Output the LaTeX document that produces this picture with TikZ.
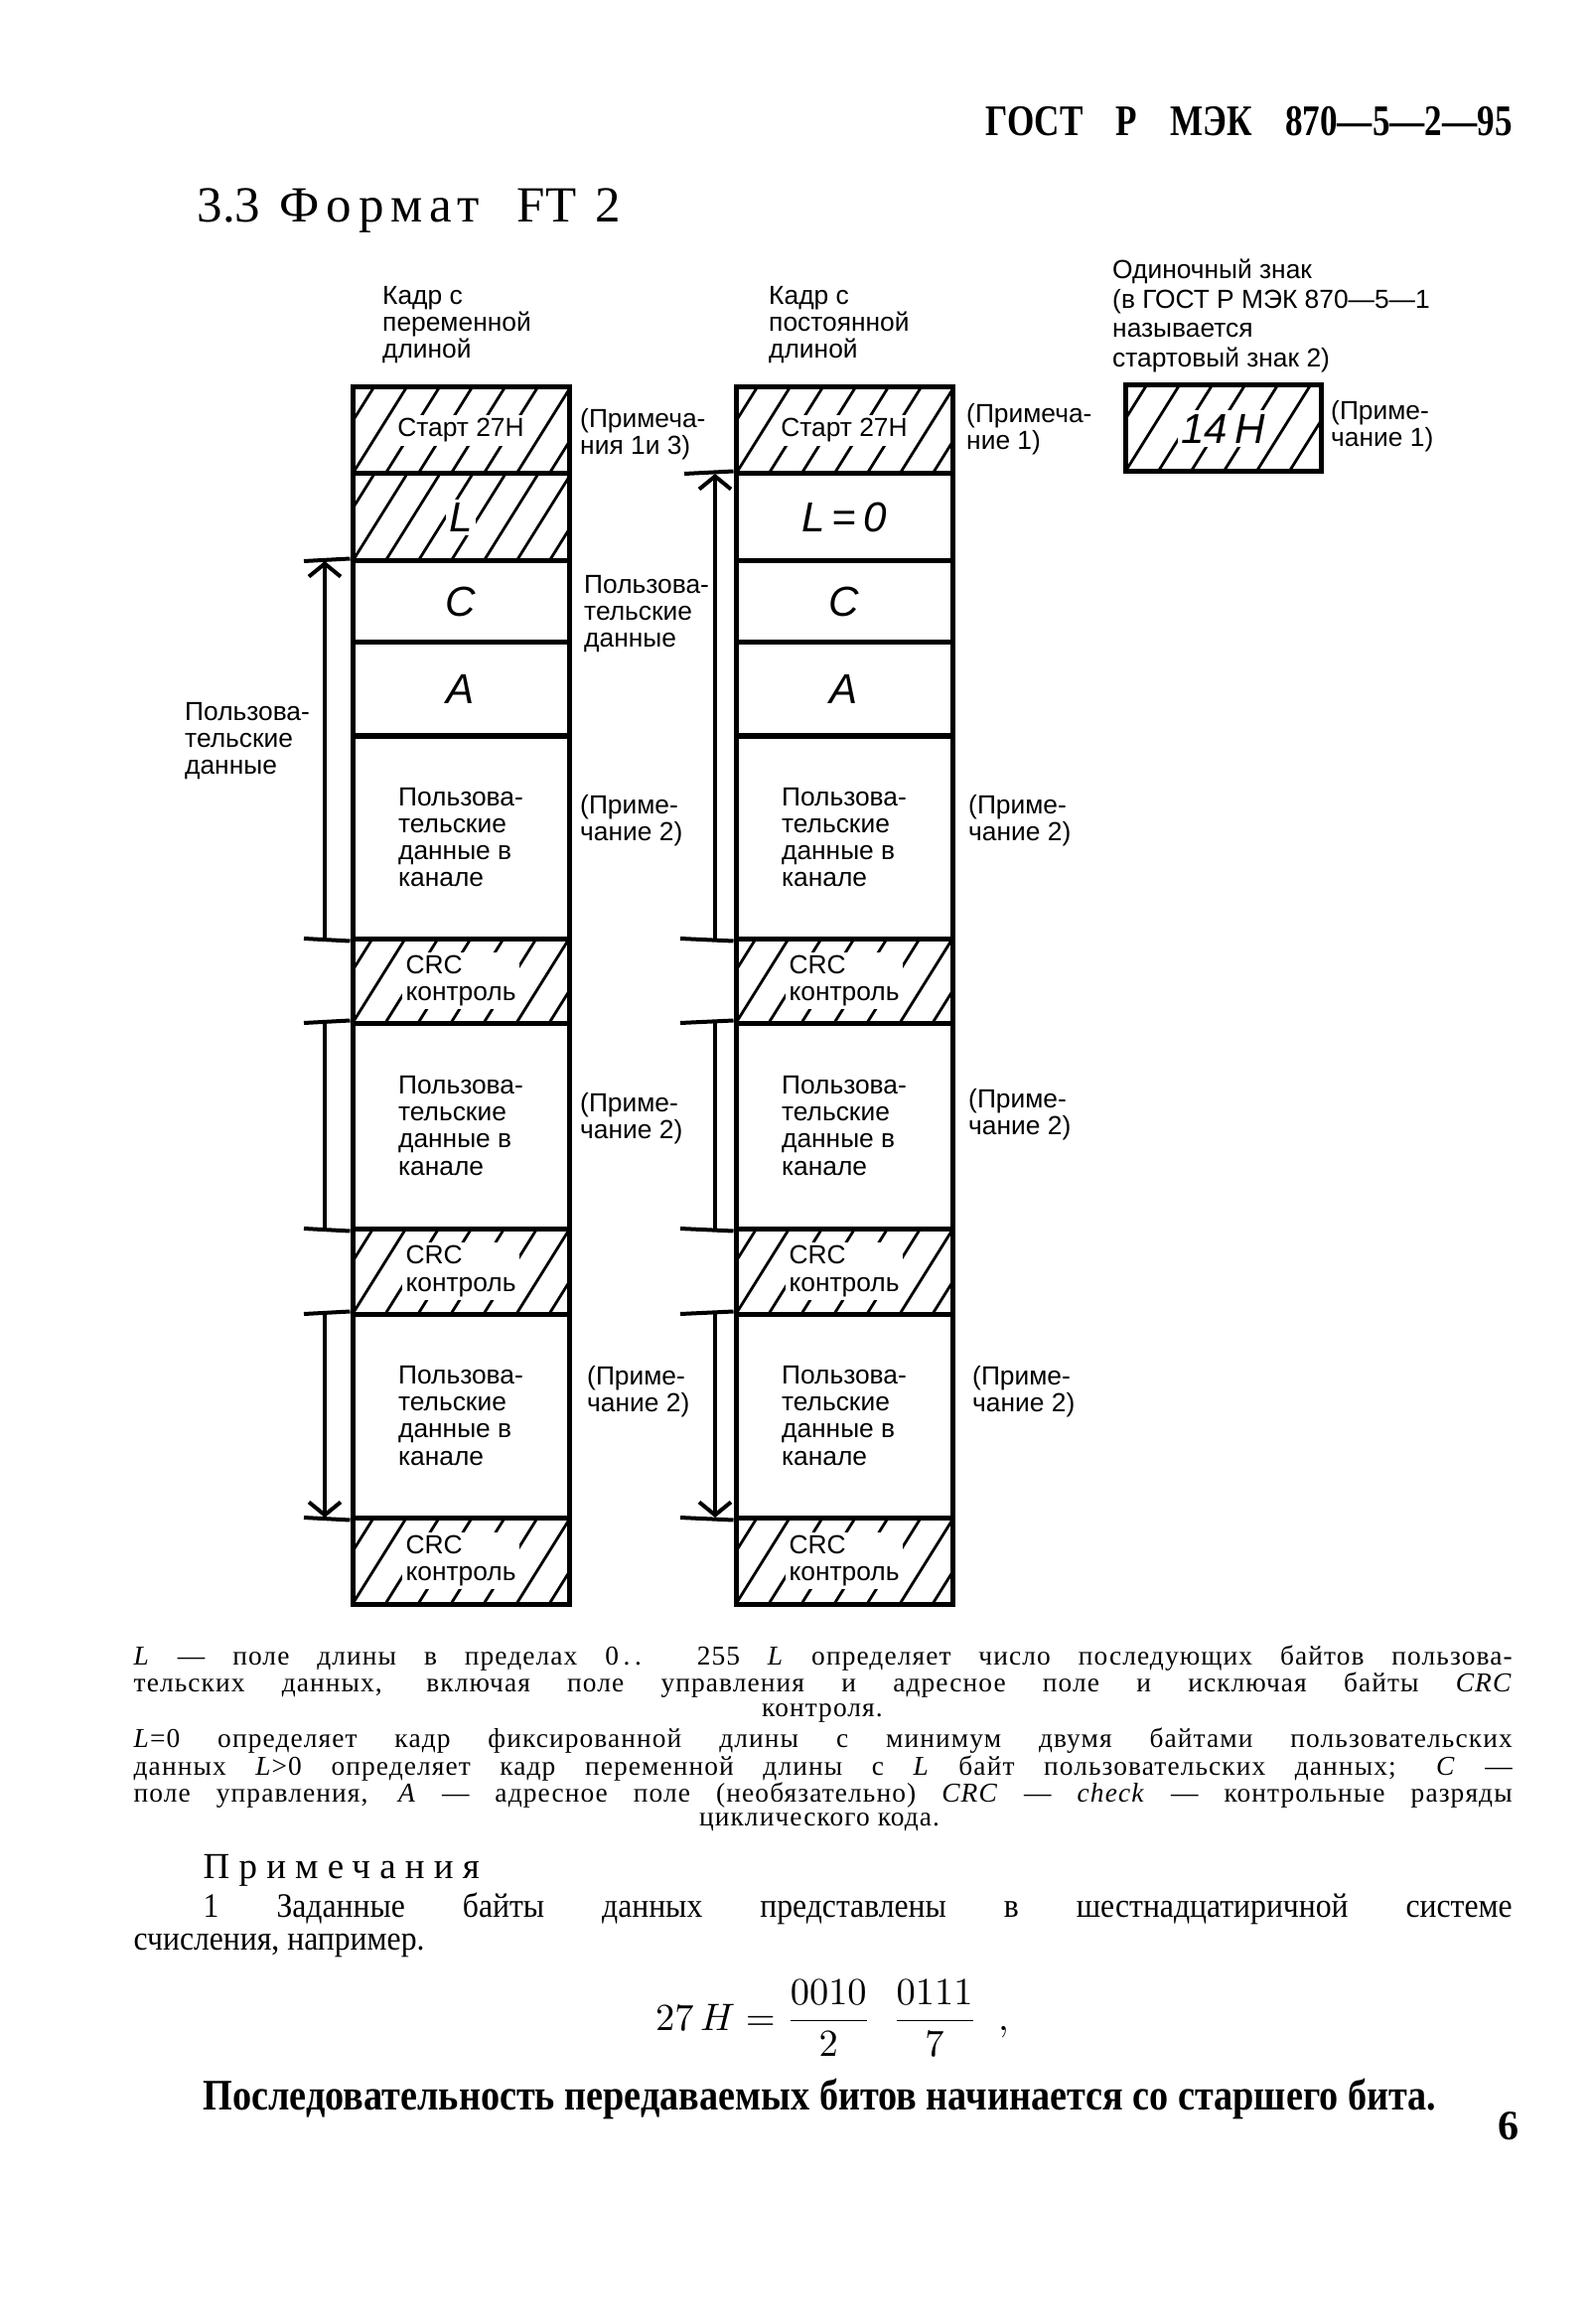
\documentclass[tikz,border=0pt]{standalone}
\usepackage{fontspec}
\setmainfont{Liberation Serif}
\newfontfamily\schema{Liberation Sans}
\newfontfamily\etroit[FakeStretch=0.8]{Liberation Serif}
\newfontfamily\moyen[FakeStretch=0.92]{Liberation Serif}
\newfontfamily\gras[FakeStretch=0.87]{Liberation Serif}
\newfontfamily\espace[LetterSpace=25]{Liberation Serif}
\newfontfamily\titrage[LetterSpace=14]{Liberation Serif}
\newfontfamily\lache[LetterSpace=4]{Liberation Serif}
\usetikzlibrary{arrows.meta}

\begin{document}
\begin{tikzpicture}[x=0.1mm,y=-0.1mm]
	% Styles (MODIFIABLES)
	\tikzstyle{case}=[draw,line width=0.5mm,minimum width=21.8mm,inner sep=0pt]
	\tikzstyle{hachure}=[path picture={\foreach \i in {-4,...,8} \draw[line width=0.28mm] ([xshift=\i*3.3mm]path picture bounding box.south west) -- ++(58:20mm);}]
	\tikzstyle{etiquette}=[font=\schema\fontsize{7.5}{7.7}\selectfont,align=left,inner sep=1pt]
	\tikzstyle{lettre}=[font=\schema\itshape\fontsize{12}{12}\selectfont,inner sep=1pt]
	\tikzstyle{renvoi}=[line width=0.4mm]
	\tikzstyle{fleche}=[line width=0.4mm,-{Straight Barb[length=1.3mm,width=3.2mm]}]
	\tikzstyle{texte}=[font=\lache\fontsize{7.8}{7.8}\selectfont,inner sep=0pt,anchor=west]
	% Dimensions (MODIFIABLES)
	\def\Xg{464}
	\def\Xm{850}
	\def\LargeurTexte{138.8mm}
	\useasboundingbox (0,0) rectangle (1601,2340);
	% Titres
	\node[inner sep=0pt,anchor=west,font=\etroit\bfseries\fontsize{12.5}{12.5}\selectfont] (gost) at (992,122) {\makebox[53mm][s]{ГОСТ Р МЭК 870—5—2—95}};
	\node[inner sep=0pt,anchor=west,font=\fontsize{14.5}{14.5}\selectfont] (titre) at (198,212) {\makebox[42.6mm][s]{3.3 {\titrage Формат}\ \ FT 2}};
	% En-tetes des colonnes
	\node[etiquette,anchor=west] (kg) at (381,327) {Кадр с\\переменной\\длиной};
	\node[etiquette,anchor=west] (km) at (770,327) {Кадр с\\постоянной\\длиной};
	\node[etiquette,anchor=west,font=\schema\fontsize{7.5}{8.5}\selectfont] (ks) at (1116,318) {Одиночный знак\\(в ГОСТ Р МЭК 870—5—1\\называется\\стартовый знак 2)};
	% Colonne gauche : kadr de longueur variable
	\node[case,hachure,minimum height=8.7mm] (g1) at (\Xg,433.5) {};
	\node[etiquette,fill=white] (tg1) at (g1) {Старт 27Н};
	\node[case,hachure,minimum height=8.8mm] (g2) at (\Xg,521) {};
	\node[lettre,fill=white] (tg2) at (g2) {L};
	\node[case,lettre,minimum height=8.2mm] (g3) at (\Xg,606) {C};
	\node[case,lettre,minimum height=9.4mm] (g4) at (\Xg,694) {A};
	\node[case,etiquette,minimum height=20.4mm] (g5) at (\Xg,843) {Пользова-\\тельские\\данные в\\канале};
	\node[case,hachure,minimum height=8.5mm] (g6) at (\Xg,987.5) {};
	\node[etiquette,fill=white] (tg6) at (g6) {CRC\\контроль};
	\node[case,etiquette,minimum height=20.7mm] (g7) at (\Xg,1133.5) {Пользова-\\тельские\\данные в\\канале};
	\node[case,hachure,minimum height=8.6mm] (g8) at (\Xg,1280) {};
	\node[etiquette,fill=white] (tg8) at (g8) {CRC\\контроль};
	\node[case,etiquette,minimum height=20.5mm] (g9) at (\Xg,1425.5) {Пользова-\\тельские\\данные в\\канале};
	\node[case,hachure,minimum height=8.7mm] (g10) at (\Xg,1571.5) {};
	\node[etiquette,fill=white] (tg10) at (g10) {CRC\\контроль};
	% Colonne milieu : kadr de longueur fixe
	\node[case,hachure,minimum height=8.7mm] (m1) at (\Xm,433.5) {};
	\node[etiquette,fill=white] (tm1) at (m1) {Старт 27Н};
	\node[case,lettre,minimum height=8.8mm] (m2) at (\Xm,521) {L\,=\,0};
	\node[case,lettre,minimum height=8.2mm] (m3) at (\Xm,606) {C};
	\node[case,lettre,minimum height=9.4mm] (m4) at (\Xm,694) {A};
	\node[case,etiquette,minimum height=20.4mm] (m5) at (\Xm,843) {Пользова-\\тельские\\данные в\\канале};
	\node[case,hachure,minimum height=8.5mm] (m6) at (\Xm,987.5) {};
	\node[etiquette,fill=white] (tm6) at (m6) {CRC\\контроль};
	\node[case,etiquette,minimum height=20.7mm] (m7) at (\Xm,1133.5) {Пользова-\\тельские\\данные в\\канале};
	\node[case,hachure,minimum height=8.6mm] (m8) at (\Xm,1280) {};
	\node[etiquette,fill=white] (tm8) at (m8) {CRC\\контроль};
	\node[case,etiquette,minimum height=20.5mm] (m9) at (\Xm,1425.5) {Пользова-\\тельские\\данные в\\канале};
	\node[case,hachure,minimum height=8.7mm] (m10) at (\Xm,1571.5) {};
	\node[etiquette,fill=white] (tm10) at (m10) {CRC\\контроль};
	% Signe isole
	\node[case,hachure,minimum width=19.7mm,minimum height=8.7mm] (s1) at (1231.5,431.5) {};
	\node[lettre,fill=white] (ts1) at (s1) {14\,H};
	% Renvois a droite
	\node[etiquette,anchor=west] (ng1) at (580,437.5) {(Примеча-\\ния 1и 3)};
	\node[etiquette,anchor=west] (ng3) at (584,618) {Пользова-\\тельские\\данные};
	\node[etiquette,anchor=west] (ng5) at (580,826.5) {(Приме-\\чание 2)};
	\node[etiquette,anchor=west] (ng7) at (580,1126.5) {(Приме-\\чание 2)};
	\node[etiquette,anchor=west] (ng9) at (587,1401) {(Приме-\\чание 2)};
	\node[etiquette,anchor=west] (nm1) at (969,432.5) {(Примеча-\\ние 1)};
	\node[etiquette,anchor=west] (nm5) at (971,826.5) {(Приме-\\чание 2)};
	\node[etiquette,anchor=west] (nm7) at (971,1122) {(Приме-\\чание 2)};
	\node[etiquette,anchor=west] (nm9) at (975,1401) {(Приме-\\чание 2)};
	\node[etiquette,anchor=west] (ns1) at (1336,429.5) {(Приме-\\чание 1)};
	\node[etiquette,anchor=west] (cote) at (182,746) {Пользова-\\тельские\\данные};
	% Lignes de rappel et cotes (gauche)
	\coordinate (rg3) at (306,565);
	\coordinate (rg5) at (306,945);
	\coordinate (rg7a) at (306,1030);
	\coordinate (rg7b) at (306,1237);
	\coordinate (rg9a) at (306,1323);
	\coordinate (rg9b) at (306,1528);
	\coordinate (fg3) at (327,565);
	\coordinate (fg5) at (327,945);
	\coordinate (fg7a) at (327,1030);
	\coordinate (fg7b) at (327,1237);
	\coordinate (fg9a) at (327,1323);
	\coordinate (fg9b) at (327,1528);
	\draw[renvoi] (rg3) -- (g3.north west);
	\draw[renvoi] (rg5) -- (g5.south west);
	\draw[renvoi] (rg7a) -- (g7.north west);
	\draw[renvoi] (rg7b) -- (g7.south west);
	\draw[renvoi] (rg9a) -- (g9.north west);
	\draw[renvoi] (rg9b) -- (g9.south west);
	\draw[fleche] (fg5) -- (fg3);
	\draw[renvoi] (fg7a) -- (fg7b);
	\draw[fleche] (fg9a) -- (fg9b);
	% Lignes de rappel et cotes (milieu)
	\coordinate (rm2) at (689,477);
	\coordinate (rm5) at (685,945);
	\coordinate (rm7a) at (685,1030);
	\coordinate (rm7b) at (685,1237);
	\coordinate (rm9a) at (685,1323);
	\coordinate (rm9b) at (685,1528);
	\coordinate (fm2) at (720,477);
	\coordinate (fm5) at (720,945);
	\coordinate (fm7a) at (720,1030);
	\coordinate (fm7b) at (720,1237);
	\coordinate (fm9a) at (720,1323);
	\coordinate (fm9b) at (720,1528);
	\draw[renvoi] (rm2) -- (m2.north west);
	\draw[renvoi] (rm5) -- (m5.south west);
	\draw[renvoi] (rm7a) -- (m7.north west);
	\draw[renvoi] (rm7b) -- (m7.south west);
	\draw[renvoi] (rm9a) -- (m9.north west);
	\draw[renvoi] (rm9b) -- (m9.south west);
	\draw[fleche] (fm5) -- (fm2);
	\draw[renvoi] (fm7a) -- (fm7b);
	\draw[fleche] (fm9a) -- (fm9b);
	% Texte sous la figure
	\node[texte] (t1) at (134,1670) {\makebox[\LargeurTexte][s]{\textit{L} — поле длины в пределах 0\,.\,.\ \ 255 \textit{L} определяет число последующих байтов пользова-}};
	\node[texte] (t2) at (134,1697) {\makebox[\LargeurTexte][s]{тельских данных, включая поле управления и адресное поле и исключая байты \textit{CRC}}};
	\node[texte,anchor=center] (t3) at (828,1725) {контроля.};
	\node[texte] (t4) at (134,1753) {\makebox[\LargeurTexte][s]{\textit{L}=0 определяет кадр фиксированной длины с минимум двумя байтами пользовательских}};
	\node[texte] (t5) at (134,1781) {\makebox[\LargeurTexte][s]{данных \textit{L}>0 определяет кадр переменной длины с \textit{L} байт пользовательских данных; \textit{C} —}};
	\node[texte] (t6) at (134,1808) {\makebox[\LargeurTexte][s]{поле управления, \textit{A} — адресное поле (необязательно) \textit{CRC} — \textit{check} — контрольные разряды}};
	\node[texte,anchor=center] (t7) at (825,1835) {циклического кода.};
	% Примечания
	\node[inner sep=0pt,anchor=west,font=\espace\fontsize{10.5}{10.5}\selectfont] (p0) at (204,1883) {Примечания};
	\node[inner sep=0pt,anchor=west,font=\moyen\fontsize{9.8}{9.8}\selectfont] (p1) at (204,1922) {\makebox[131.8mm][s]{1 Заданные байты данных представлены в шестнадцатиричной системе}};
	\node[inner sep=0pt,anchor=west,font=\moyen\fontsize{9.8}{9.8}\selectfont] (p2) at (134,1959) {счисления, например.};
	\node[inner sep=0pt,font=\moyen\fontsize{10.5}{10.5}\selectfont] (eq) at (838,2032) {$\displaystyle 27\,H=\frac{0010}{2}\;\;\frac{0111}{7}\;\;\mathbf{,}$};
	\node[inner sep=0pt,anchor=west,font=\gras\bfseries\fontsize{12.5}{12.5}\selectfont] (p3) at (204,2113) {Последовательность передаваемых битов начинается со старшего бита.};
	\node[inner sep=0pt,anchor=west,font=\bfseries\fontsize{12}{12}\selectfont] (page) at (1508,2141) {6};
\end{tikzpicture}
\end{document}
